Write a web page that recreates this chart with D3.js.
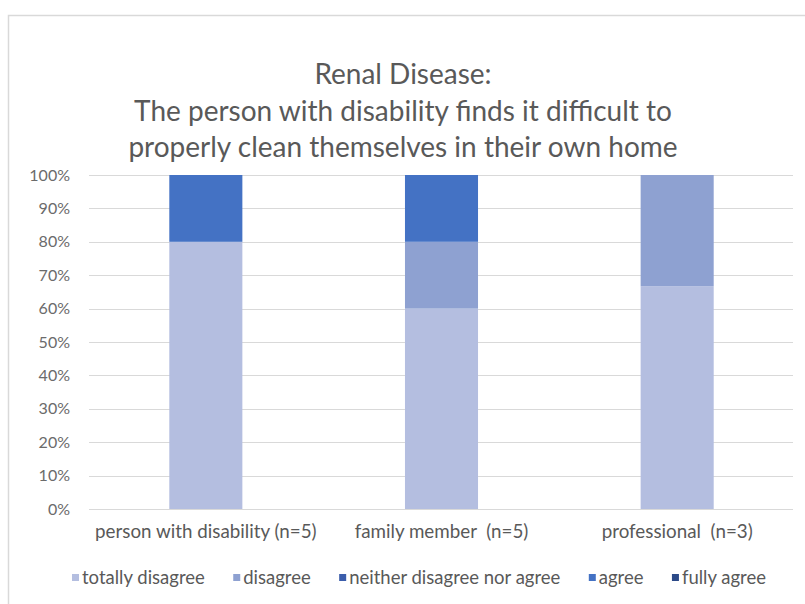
<!DOCTYPE html>
<html>
<head>
<meta charset="utf-8">
<script src="https://cdn.jsdelivr.net/npm/d3@7"></script>
<style>
  html, body { margin: 0; padding: 0; background: #ffffff; }
  svg { display: block; }
  text { font-family: Lato, "Open Sans", "Liberation Sans", sans-serif; white-space: pre; }
</style>
</head>
<body>
<div id="chart"></div>
<script>
// Respondent groups shown along the x axis
const categories = ["person with disability (n=5)", "family member  (n=5)", "professional  (n=3)"];
// Answer options, bottom to top of each stacked bar
const seriesNames = ["totally disagree", "disagree", "neither disagree nor agree", "agree", "fully agree"];
// Share of answers (percent) per group, one array per answer option
const totallyDisagree = [80, 60, 66.67];
const disagree        = [0, 20, 33.33];
const neither         = [0, 0, 0];
const agree           = [20, 20, 0];
const fullyAgree      = [0, 0, 0];
const yTicks = [0, 10, 20, 30, 40, 50, 60, 70, 80, 90, 100];
const titleLines = [
  "Renal Disease:",
  "The person with disability finds it difficult to",
  "properly clean themselves in their own home"
];
const colors = ["#b4bee0", "#8ea1d1", "#3b5dab", "#4472c4", "#2c4a88"];

const W = 805, H = 604;

const rows = categories.map((c, i) => ({
  cat: c,
  [seriesNames[0]]: totallyDisagree[i],
  [seriesNames[1]]: disagree[i],
  [seriesNames[2]]: neither[i],
  [seriesNames[3]]: agree[i],
  [seriesNames[4]]: fullyAgree[i]
}));
const stacked = d3.stack().keys(seriesNames)(rows);

const svg = d3.select("#chart").append("svg").attr("width", W).attr("height", H);

// chart frame
svg.append("rect").attr("x", 8.5).attr("y", 15.5).attr("width", W + 20).attr("height", H + 20)
  .attr("fill", "#ffffff").attr("stroke", "#d9d9d9").attr("stroke-width", 1.5);

const x = d3.scaleBand().domain(categories).range([88, 795]).paddingInner(0.69).paddingOuter(0.345);
const y = d3.scaleLinear().domain([0, 100]).range([509, 175]);

// gridlines
svg.append("g").selectAll("line").data(yTicks).join("line")
  .attr("x1", 89).attr("x2", 793)
  .attr("y1", d => Math.round(y(d)) + 0.5).attr("y2", d => Math.round(y(d)) + 0.5)
  .attr("stroke", "#d9d9d9").attr("stroke-width", 1);

// y axis labels
const yAxis = d3.axisLeft(y).tickValues(yTicks).tickFormat(d => d + "%").tickSize(0).tickPadding(0);
const gy = svg.append("g").attr("transform", "translate(70,0)").call(yAxis);
gy.select(".domain").remove();
gy.selectAll("text").attr("fill", "#6b6b6b").style("font-size", "16px")
  .style("font-family", "Lato, 'Open Sans', sans-serif");

// stacked bars
svg.append("g").selectAll("g").data(stacked).join("g")
  .attr("fill", (d, i) => colors[i])
  .selectAll("rect").data(d => d).join("rect")
  .attr("x", d => x(d.data.cat))
  .attr("width", x.bandwidth())
  .attr("y", d => y(d[1]))
  .attr("height", d => Math.max(0, y(d[0]) - y(d[1])));

// x axis labels
const xAxis = d3.axisBottom(x).tickSize(0).tickPadding(0);
const gx = svg.append("g").attr("transform", "translate(0,525)").call(xAxis);
gx.select(".domain").remove();
gx.selectAll("text").attr("fill", "#595959").style("font-size", "18.8px")
  .style("font-family", "Lato, 'Open Sans', sans-serif");

// title
svg.append("g").selectAll("text").data(titleLines).join("text")
  .attr("x", 403).attr("y", (d, i) => 84 + i * 36.5)
  .attr("text-anchor", "middle")
  .attr("fill", "#595959")
  .style("font-size", "28px")
  .text(d => d);

// legend: items laid out in a row with equal gaps, spread across the bottom
const legendLeft = 72, legendRight = 766, swatch = 7, swatchGap = 3;
const lg = svg.append("g").selectAll("g").data(seriesNames).join("g");
lg.append("rect").attr("x", 0).attr("y", -5).attr("width", swatch).attr("height", swatch)
  .attr("fill", (d, i) => colors[i]);
lg.append("text").attr("x", swatch + swatchGap).attr("y", 5).attr("fill", "#595959")
  .style("font-size", "18.5px").text(d => d);
const itemW = [];
lg.each(function () { itemW.push(swatch + swatchGap + d3.select(this).select("text").node().getComputedTextLength()); });
const gap = (legendRight - legendLeft - d3.sum(itemW)) / (itemW.length - 1);
let cx = legendLeft;
lg.attr("transform", (d, i) => { const t = `translate(${cx},579)`; cx += itemW[i] + gap; return t; });
</script>
</body>
</html>
